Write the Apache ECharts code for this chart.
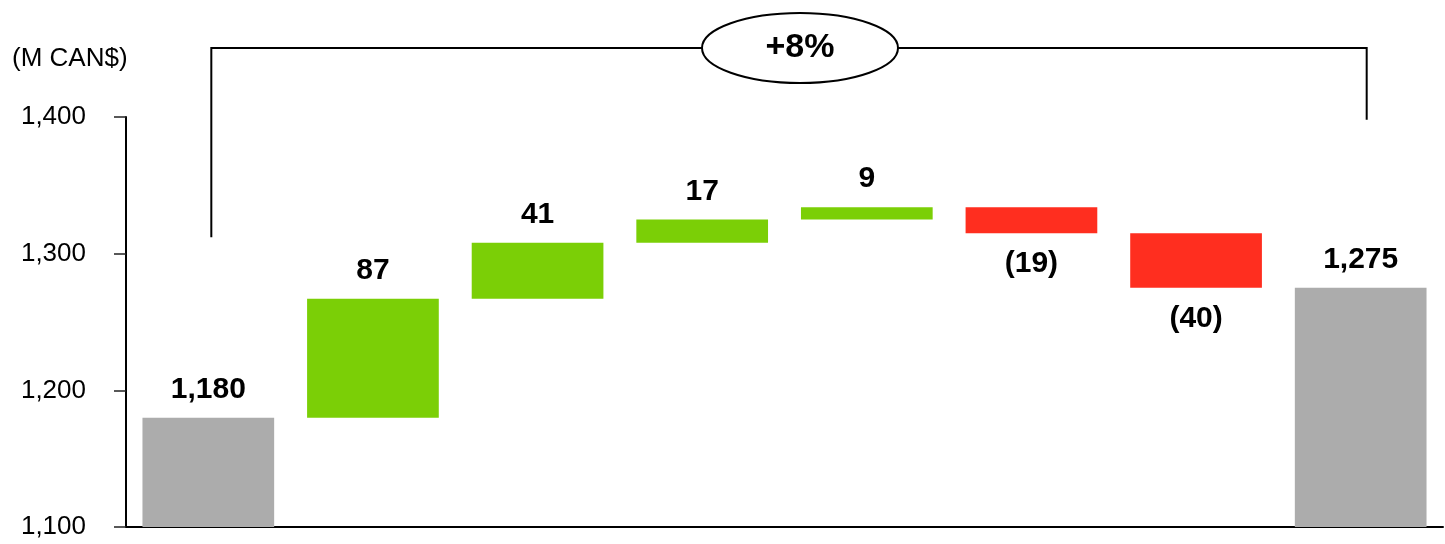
<!DOCTYPE html>
<html>
<head>
<meta charset="utf-8">
<script src="https://cdn.jsdelivr.net/npm/echarts@6/dist/echarts.min.js"></script>
<style>
  html, body { margin: 0; padding: 0; background: #fff; }
  #chart { width: 1445px; height: 544px; }
</style>
</head>
<body>
<div id="chart"></div>
<script>
// Bridge from opening to closing revenue (M CAN$)
const categories = ['Opening', 'Step 1', 'Step 2', 'Step 3', 'Step 4', 'Step 5', 'Step 6', 'Closing'];
const openingValue = 1180;
const stepChanges = [87, 41, 17, 9, -19, -40];
const closingValue = 1275;
const yTicks = [1100, 1200, 1300, 1400];
const unitLabel = '(M CAN$)';

const FONT = '"Liberation Sans", Arial, sans-serif';
const COLORS = { total: '#acacac', up: '#7bcf06', down: '#ff2e1f' };

// Stack pieces: invisible base + visible segment per category
const baseData = [];
const totalData = [];
const upData = [];
const downData = [];

totalData.push(openingValue); baseData.push('-'); upData.push('-'); downData.push('-');
let running = openingValue;
stepChanges.forEach(function (c) {
  const next = running + c;
  baseData.push(Math.min(running, next));
  totalData.push('-');
  if (c >= 0) { upData.push(c); downData.push('-'); }
  else { upData.push('-'); downData.push(-c); }
  running = next;
});
totalData.push(closingValue); baseData.push('-'); upData.push('-'); downData.push('-');

const fmt = function (v) { return Number(v).toLocaleString('en-US'); };
const growthPct = Math.round((closingValue / openingValue - 1) * 100);

const valueLabel = {
  show: true,
  fontFamily: FONT,
  fontWeight: 'bold',
  fontSize: 30,
  color: '#000'
};

const chart = echarts.init(document.getElementById('chart'), null, { renderer: 'canvas' });

chart.setOption({
  animation: false,
  backgroundColor: '#fff',
  title: {
    text: unitLabel,
    left: 7,
    top: 41,
    textStyle: { fontFamily: FONT, fontSize: 26, fontWeight: 'normal', color: '#000' }
  },
  grid: { left: 126, right: 2, top: 117, bottom: 17 },
  xAxis: {
    type: 'category',
    data: categories,
    axisLine: { show: true, lineStyle: { color: '#000', width: 2 } },
    axisTick: { show: false },
    axisLabel: { show: false },
    splitLine: { show: false }
  },
  yAxis: {
    type: 'value',
    min: yTicks[0],
    max: yTicks[yTicks.length - 1],
    interval: yTicks[1] - yTicks[0],
    axisLine: { show: true, lineStyle: { color: '#000', width: 2 } },
    axisTick: { show: true, length: 12, lineStyle: { color: '#222', width: 1.5 } },
    axisLabel: {
      margin: 40,
      fontFamily: FONT,
      fontSize: 26,
      color: '#000',
      formatter: fmt
    },
    splitLine: { show: false }
  },
  series: [
    {
      name: 'base', type: 'bar', stack: 'bridge', barWidth: '80%',
      itemStyle: { color: 'rgba(0,0,0,0)' },
      data: baseData, silent: true
    },
    {
      name: 'total', type: 'bar', stack: 'bridge', barWidth: '80%',
      itemStyle: { color: COLORS.total },
      label: Object.assign({}, valueLabel, { position: 'top', distance: 13, formatter: function (p) { return fmt(p.value); } }),
      data: totalData
    },
    {
      name: 'increase', type: 'bar', stack: 'bridge', barWidth: '80%',
      itemStyle: { color: COLORS.up },
      label: Object.assign({}, valueLabel, { position: 'top', distance: 13, formatter: function (p) { return fmt(p.value); } }),
      data: upData
    },
    {
      name: 'decrease', type: 'bar', stack: 'bridge', barWidth: '80%',
      itemStyle: { color: COLORS.down },
      label: Object.assign({}, valueLabel, { position: 'bottom', distance: 16, formatter: function (p) { return '(' + fmt(p.value) + ')'; } }),
      data: downData
    }
  ]
});

// Growth bracket spanning opening and closing bars
const xL = chart.convertToPixel({ xAxisIndex: 0 }, categories[0]) + 3;
const xR = chart.convertToPixel({ xAxisIndex: 0 }, categories[categories.length - 1]) + 6;
const yLeftEnd = chart.convertToPixel({ yAxisIndex: 0 }, 1312);
const yRightEnd = chart.convertToPixel({ yAxisIndex: 0 }, 1398);
const yTop = 48;
const cx = (xL + xR) / 2 + 11;

chart.setOption({
  graphic: [
    {
      type: 'polyline', z: 10,
      shape: { points: [[xL, yLeftEnd], [xL, yTop], [xR, yTop], [xR, yRightEnd]] },
      style: { stroke: '#000', lineWidth: 2, fill: null }
    },
    {
      type: 'ellipse', z: 11,
      shape: { cx: cx, cy: yTop, rx: 98, ry: 35 },
      style: { fill: '#fff', stroke: '#000', lineWidth: 2 }
    },
    {
      type: 'text', z: 12,
      x: cx, y: yTop,
      style: {
        text: '+' + growthPct + '%',
        fontFamily: FONT, fontWeight: 'bold', fontSize: 34, fill: '#000',
        align: 'center', verticalAlign: 'middle'
      }
    }
  ]
});
</script>
</body>
</html>
